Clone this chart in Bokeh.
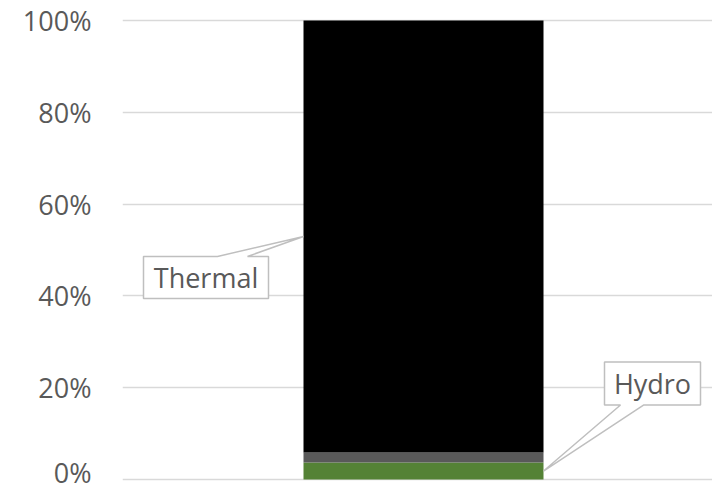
from bokeh.plotting import figure
from bokeh.models import Range1d, NumeralTickFormatter, FixedTicker
from bokeh.core.properties import value
from bokeh.embed import file_html
from bokeh.resources import INLINE

# ---- data ----
segments = ["Hydro", "Other", "Thermal"]
shares = [0.037, 0.022, 0.941]
colors = ["#548235", "#595959", "#000000"]
y_ticks = [0, 0.2, 0.4, 0.6, 0.8, 1.0]
labelled = ["Hydro", "Thermal"]

# ---- layout ----
W, H = 712, 490
LEFT, TOP, BOTTOM = 122, 15, 6
PX_X = 600.0   # pixels per x unit
PX_Y = 459.0   # pixels per y unit (0..100%)
BAR_W = 0.4
X0_PX = 423    # bar centre in canvas px
Y0_PX = 479    # 0% in canvas px

x_start = (LEFT - X0_PX) / PX_X
x_end = (W - X0_PX) / PX_X
y_start = -(H - BOTTOM - Y0_PX) / PX_Y
y_end = 1 + (Y0_PX - PX_Y - TOP) / PX_Y

p = figure(width=W, height=H, output_backend="svg", toolbar_location=None,
           x_range=Range1d(x_start, x_end), y_range=Range1d(y_start, y_end),
           x_axis_location=None, min_border_left=LEFT, min_border_right=0,
           min_border_top=TOP, min_border_bottom=BOTTOM)
p.outline_line_color = None
p.background_fill_color = "white"
p.border_fill_color = "white"

p.xgrid.grid_line_color = None
p.ygrid.grid_line_color = "#d9d9d9"
p.ygrid.grid_line_width = 1.4

ax = p.yaxis[0]
ax.ticker = FixedTicker(ticks=y_ticks)
ax.formatter = NumeralTickFormatter(format="0%")
ax.axis_line_color = None
ax.major_tick_line_color = None
ax.minor_tick_line_color = None
ax.major_tick_out = 0
ax.major_tick_in = 0
ax.minor_tick_out = 0
ax.major_label_standoff = 31
ax.major_label_text_font = "Open Sans"
ax.major_label_text_font_size = "27px"
ax.major_label_text_color = "#595959"

# ---- stacked bar ----
bottoms, tops = [], []
acc = 0.0
for s in shares:
    bottoms.append(acc)
    acc += s
    tops.append(acc)
p.vbar(x=[0] * len(shares), width=BAR_W, bottom=bottoms, top=tops,
       fill_color=colors, line_color=None)

# ---- callouts ----
def dx(px):
    return px / PX_X

def dy(py):
    return py / PX_Y

i_th = segments.index("Thermal")
i_hy = segments.index("Hydro")

# Thermal callout: tip at bar left edge, middle of segment
tx, ty = -BAR_W / 2, (bottoms[i_th] + tops[i_th]) / 2
l, r = tx - dx(160), tx - dx(35)
t, b = ty - dy(20), ty - dy(62)
w1, w2 = tx - dx(86), tx - dx(56)
th_xs = [l, w1, tx, w2, r, r, l]
th_ys = [t, t, ty, t, t, b, b]

# Hydro callout: tip at bar right edge, middle of segment
hx, hy = BAR_W / 2, (bottoms[i_hy] + tops[i_hy]) / 2
l2, r2 = hx + dx(61), hx + dx(157)
t2, b2 = hy + dy(109), hy + dy(66)
v1, v2 = hx + dx(77), hx + dx(100)
hy_xs = [l2, r2, r2, v2, hx, v1, l2]
hy_ys = [t2, t2, b2, b2, hy, b2, b2]

p.patches(xs=[th_xs, hy_xs], ys=[th_ys, hy_ys], fill_color="white",
          line_color="#bfbfbf", line_width=1.5)

p.text(x=[(l + r) / 2, (l2 + r2) / 2], y=[(t + b) / 2, (t2 + b2) / 2],
       text=["Thermal", "Hydro"], text_align="center", text_baseline="middle",
       text_font=value("Open Sans"), text_font_size=value("27px"),
       text_color="#595959")

open("out.html", "w").write(file_html(p, INLINE))
